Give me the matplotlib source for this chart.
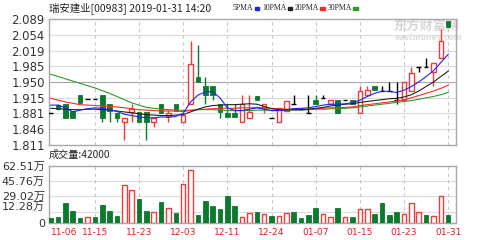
import matplotlib
matplotlib.use('Agg')
import matplotlib.pyplot as plt
from matplotlib.patches import Rectangle

plt.rcParams['font.family'] = ['DejaVu Sans', 'Noto Sans CJK SC']

# OHLC per trading day
opens = [1.881, 1.900, 1.901, 1.885, 1.921, 1.912, 1.912, 1.921, 1.901, 1.881,
         1.861, 1.883, 1.883, 1.883, 1.861, 1.901, 1.874, 1.901, 1.861, 1.901,
         1.960, 1.941, 1.941, 1.901, 1.881, 1.881, 1.861, 1.871, 1.920, 1.892,
         1.871, 1.861, 1.885, 1.901, 1.890, 1.881, 1.910, 1.914, 1.901, 1.910,
         1.910, 1.910, 1.881, 1.921, 1.942, 1.930, 1.930, 1.910, 1.910, 1.930,
         1.982, 1.982, 1.971, 2.002, 2.085]
closes = [1.881, 1.890, 1.871, 1.871, 1.903, 1.912, 1.912, 1.871, 1.885, 1.871,
          1.870, 1.890, 1.861, 1.861, 1.870, 1.881, 1.881, 1.885, 1.877, 1.989,
          1.951, 1.921, 1.921, 1.883, 1.872, 1.872, 1.901, 1.883, 1.910, 1.901,
          1.871, 1.892, 1.908, 1.901, 1.890, 1.881, 1.901, 1.914, 1.910, 1.881,
          1.910, 1.901, 1.930, 1.932, 1.932, 1.930, 1.930, 1.910, 1.950, 1.969,
          1.982, 1.982, 1.991, 2.040, 2.072]
highs = [1.881, 1.901, 1.901, 1.885, 1.921, 1.912, 1.912, 1.921, 1.901, 1.881,
         1.870, 1.901, 1.883, 1.883, 1.870, 1.901, 1.888, 1.901, 1.877, 2.040,
         2.032, 1.961, 1.941, 1.901, 1.901, 1.901, 1.921, 1.921, 1.920, 1.901,
         1.871, 1.892, 1.908, 1.921, 1.890, 1.921, 1.921, 1.921, 1.910, 1.910,
         1.910, 1.910, 1.942, 1.942, 1.942, 1.942, 1.950, 1.950, 1.950, 1.982,
         1.982, 2.002, 1.991, 2.068, 2.085]
lows = [1.881, 1.889, 1.871, 1.871, 1.903, 1.912, 1.912, 1.861, 1.861, 1.861,
        1.822, 1.861, 1.861, 1.822, 1.851, 1.881, 1.861, 1.885, 1.861, 1.901,
        1.951, 1.901, 1.910, 1.871, 1.872, 1.872, 1.861, 1.871, 1.910, 1.881,
        1.871, 1.861, 1.885, 1.901, 1.890, 1.881, 1.901, 1.914, 1.901, 1.881,
        1.910, 1.901, 1.881, 1.921, 1.932, 1.930, 1.930, 1.901, 1.910, 1.930,
        1.971, 1.982, 1.942, 2.002, 2.072]

ma5 = [1.899, 1.899, 1.893, 1.884, 1.888, 1.891, 1.893, 1.892, 1.889, 1.885,
       1.879, 1.876, 1.873, 1.871, 1.871, 1.873, 1.872, 1.874, 1.881, 1.906,
       1.921, 1.928, 1.929, 1.915, 1.893, 1.887, 1.887, 1.890, 1.893, 1.890,
       1.887, 1.887, 1.889, 1.891, 1.892, 1.893, 1.896, 1.899, 1.901, 1.901,
       1.902, 1.904, 1.910, 1.918, 1.925, 1.930, 1.929, 1.927, 1.932, 1.940,
       1.950, 1.962, 1.975, 1.993, 2.011]
ma10 = [1.892, 1.891, 1.890, 1.889, 1.889, 1.890, 1.890, 1.889, 1.888, 1.886,
        1.884, 1.882, 1.880, 1.878, 1.877, 1.876, 1.876, 1.877, 1.878, 1.884,
        1.890, 1.895, 1.898, 1.899, 1.900, 1.900, 1.901, 1.902, 1.901, 1.896,
        1.891, 1.889, 1.888, 1.889, 1.889, 1.890, 1.892, 1.894, 1.897, 1.899,
        1.901, 1.902, 1.905, 1.907, 1.909, 1.911, 1.913, 1.914, 1.917, 1.922,
        1.930, 1.940, 1.950, 1.962, 1.974]
ma20 = [1.914, 1.910, 1.906, 1.903, 1.900, 1.899, 1.898, 1.897, 1.896, 1.895,
        1.893, 1.891, 1.889, 1.888, 1.887, 1.886, 1.886, 1.886, 1.885, 1.887,
        1.889, 1.890, 1.891, 1.892, 1.892, 1.892, 1.893, 1.893, 1.894, 1.893,
        1.892, 1.891, 1.890, 1.890, 1.890, 1.890, 1.891, 1.892, 1.893, 1.893,
        1.894, 1.895, 1.898, 1.900, 1.902, 1.904, 1.906, 1.908, 1.911, 1.915,
        1.920, 1.925, 1.930, 1.936, 1.943]
ma30 = [1.967, 1.962, 1.957, 1.952, 1.947, 1.942, 1.937, 1.931, 1.925, 1.918,
        1.911, 1.904, 1.899, 1.894, 1.892, 1.890, 1.889, 1.888, 1.887, 1.888,
        1.889, 1.889, 1.889, 1.888, 1.887, 1.887, 1.887, 1.887, 1.888, 1.888,
        1.887, 1.887, 1.888, 1.888, 1.888, 1.889, 1.890, 1.890, 1.891, 1.891,
        1.892, 1.893, 1.895, 1.897, 1.899, 1.901, 1.903, 1.905, 1.907, 1.909,
        1.912, 1.915, 1.918, 1.922, 1.927]

# volume in 万 and bar colour (r = hollow red, g = solid green)
volumes = [4.8, 6.7, 21.6, 13.0, 4.8, 6.0, 6.0, 19.3, 13.0, 7.0,
           41.7, 36.0, 26.4, 13.0, 12.0, 23.0, 16.4, 11.0, 43.2, 58.0,
           8.2, 23.8, 18.6, 14.9, 29.4, 17.9, 6.0, 10.8, 11.9, 9.7,
           7.1, 7.1, 10.8, 11.9, 5.2, 8.2, 16.0, 9.7, 6.0, 16.7,
           6.0, 6.0, 15.6, 15.6, 10.0, 21.6, 8.9, 11.9, 10.0, 21.6,
           11.9, 8.9, 7.8, 29.0, 8.9]
vol_colors = ['g', 'g', 'g', 'g', 'g', 'r', 'g', 'g', 'g', 'g',
              'r', 'r', 'g', 'g', 'r', 'g', 'r', 'g', 'r', 'r',
              'g', 'g', 'g', 'g', 'g', 'g', 'r', 'r', 'g', 'r',
              'g', 'r', 'r', 'g', 'g', 'g', 'g', 'r', 'r', 'g',
              'r', 'g', 'r', 'r', 'g', 'g', 'g', 'g', 'r', 'r',
              'r', 'g', 'r', 'r', 'g']

xtick_pos = [0, 6, 12, 18, 24, 30, 36, 42, 48, 54]
xtick_labels = ['11-06', '11-15', '11-23', '12-03', '12-11', '12-24',
                '01-07', '01-15', '01-23', '01-31']
price_ticks = [1.811, 1.846, 1.881, 1.915, 1.950, 1.985, 2.019, 2.054, 2.089]
vol_ticks = [0, 12.28, 29.02, 45.76, 62.51]
vol_tick_labels = ['0', '12.28万', '29.02万', '45.76万', '62.51万']

RED = '#f03c3c'
GREEN = '#0b7a2e'
GRID = '#dcdcdc'
FRAME = '#a8a8a8'
TXT = '#333333'

W, H = 502, 240
fig = plt.figure(figsize=(W / 100, H / 100), dpi=100)
ax = fig.add_axes([49 / W, 1 - 145 / H, 407 / W, 126 / H])
axv = fig.add_axes([49 / W, 1 - 222.7 / H, 407 / W, 56.7 / H])

xmin, xmax = -0.23, 55.06
bw = 0.62

# candles
for i in range(len(opens)):
    o, c, hi, lo = opens[i], closes[i], highs[i], lows[i]
    top, bot = max(o, c), min(o, c)
    if c > o:
        col = RED
    elif c < o:
        col = GREEN
    else:
        col = 'black'
    if hi > top:
        ax.vlines(i, top, hi, color=col, lw=1.0, zorder=3)
    if lo < bot:
        ax.vlines(i, lo, bot, color=col, lw=1.0, zorder=3)
    if c == o:
        ax.hlines(o, i - bw / 2, i + bw / 2, color=col, lw=1.0, zorder=3)
    elif c > o:
        ax.bar(i, top - bot, bottom=bot, width=bw, facecolor='white',
               edgecolor=col, linewidth=1.0, zorder=4)
    else:
        ax.bar(i, top - bot, bottom=bot, width=bw, facecolor=col,
               edgecolor=col, linewidth=0.6, zorder=4)

x = list(range(len(ma5)))
ax.plot(x, ma30, color='#2e9a2e', lw=0.8, zorder=5)
ax.plot(x, ma20, color='#ff2a2a', lw=0.8, zorder=5)
ax.plot(x, ma10, color='#222222', lw=0.8, zorder=5)
ax.plot(x, ma5, color='#2020ff', lw=0.8, zorder=5)

ax.set_xlim(xmin, xmax)
ax.set_ylim(1.811, 2.089)
ax.set_yticks(price_ticks)
ax.set_yticklabels(['%.3f' % v for v in price_ticks])
ax.set_xticks([])
for v in price_ticks[1:-1]:
    ax.axhline(v, color='#a8a8a8' if v == 1.950 else GRID, lw=0.8, zorder=1)

# volume bars
for i, v in enumerate(volumes):
    if vol_colors[i] == 'r':
        axv.bar(i, v, width=bw, facecolor='white', edgecolor=RED, linewidth=1.0, zorder=3)
    else:
        axv.bar(i, v, width=bw, facecolor=GREEN, edgecolor=GREEN, linewidth=0.6, zorder=3)
axv.set_xlim(xmin, xmax)
axv.set_ylim(0, 62.51)
axv.set_yticks(vol_ticks)
axv.set_yticklabels(vol_tick_labels)
for v in vol_ticks[1:-1]:
    axv.axhline(v, color=GRID, lw=0.8, zorder=1)
axv.set_xticks(xtick_pos)
axv.set_xticklabels(xtick_labels)

for a in (ax, axv):
    for p in xtick_pos[1:]:
        a.axvline(p, color='#c8c8c8', lw=0.8, ls=(0, (3, 3)), zorder=1)
    for s in a.spines.values():
        s.set_color(FRAME)
        s.set_linewidth(1.0)
    a.tick_params(length=0, labelsize=8.4, labelcolor=TXT, pad=3)
axv.tick_params(axis='y', labelsize=8.0)
axv.tick_params(axis='x', labelcolor='#e02020', labelsize=6.6, pad=4)
axv.get_xticklabels()[0].set_ha('left')
# the 12.28万 label sits a little above its line, clear of the 0 label
axv.get_yticklabels()[1].set_va('bottom')

# header and legend
fig.text(49 / W, 1 - 8 / H, '瑞安建业[00983] 2019-01-31 14:20', ha='left', va='center',
         fontsize=7.5, color='#222222', family=['Noto Sans CJK SC', 'DejaVu Sans'])
legend = [('5PMA', '#2020ff'), ('10PMA', '#222222'),
          ('20PMA', '#ff2a2a'), ('30PMA', '#2e9a2e')]
renderer = fig.canvas.get_renderer()
cur = 233
for name, col in legend:
    t = fig.text(cur / W, 1 - 8 / H, name, ha='left', va='center', fontsize=5.6,
                 color='#222222', family=['Liberation Serif'])
    wpx = t.get_window_extent(renderer).width
    mx = cur + wpx + 1.2
    fig.patches.append(Rectangle((mx / W, 1 - 9.6 / H), 4.4 / W, 2.6 / H,
                                 transform=fig.transFigure, color=col, figure=fig))
    cur = mx + 4.4 + 2.8

fig.text(49 / W, 1 - 155 / H, '成交量:42000', ha='left', va='center', fontsize=7.3,
         color='#222222', family=['Noto Sans CJK SC', 'DejaVu Sans'])

# watermark
ax.text(0.845, 1 - 13.5 / 126, '东方财富网', transform=ax.transAxes, ha='left', va='bottom',
        fontsize=9.5, color='#d6d6d6', fontweight='bold',
        family=['Noto Sans CJK SC'], zorder=2)
ax.text(0.848, 1 - 14.5 / 126, 'eastmoney.com', transform=ax.transAxes, ha='left', va='top',
        fontsize=5.5, color='#dedede', fontweight='bold', zorder=2)

fig.savefig('out.png', dpi=100)
